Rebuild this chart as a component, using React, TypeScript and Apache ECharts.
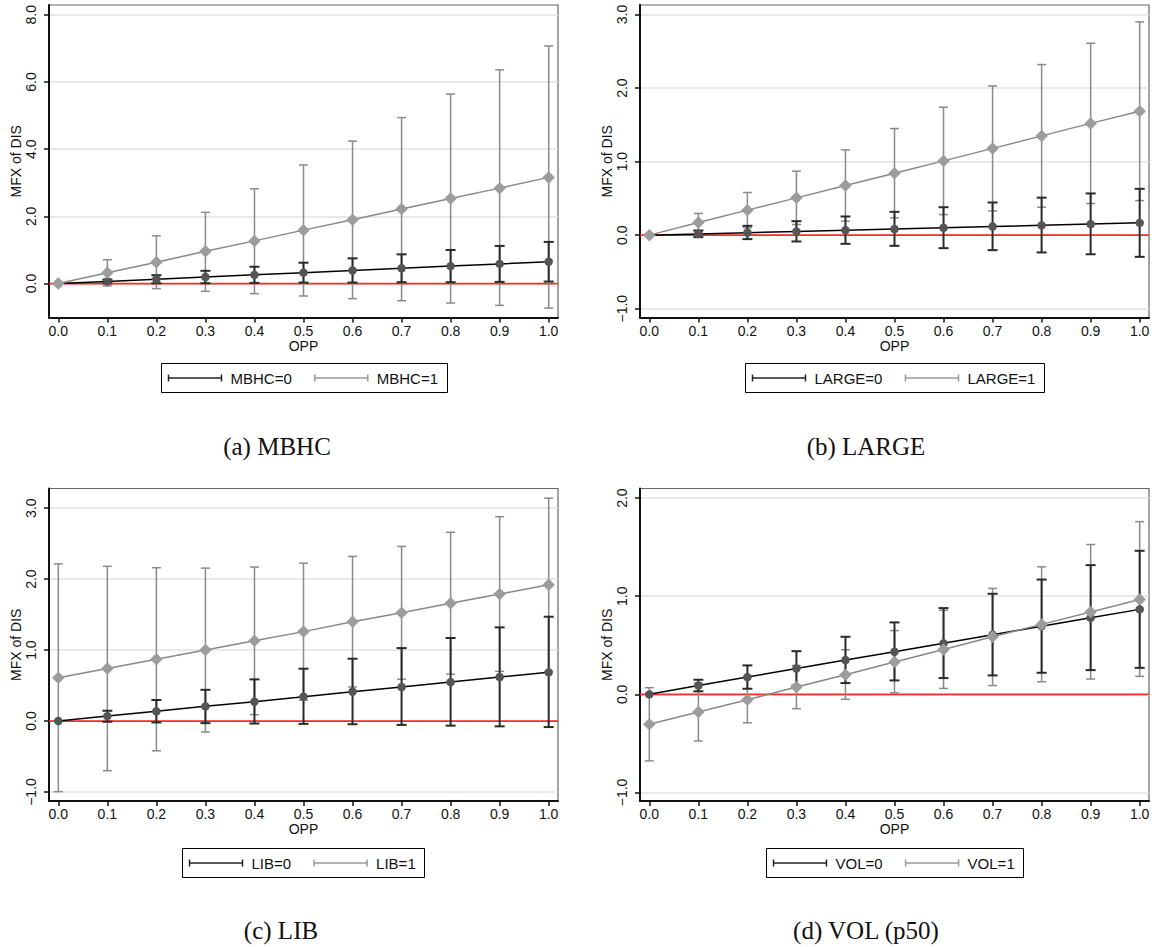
import React, { useEffect, useRef } from "react";
import * as echarts from "echarts";

// ---------- data ----------
const OPP = [0, 0.1, 0.2, 0.3, 0.4, 0.5, 0.6, 0.7, 0.8, 0.9, 1.0];

// (a) MBHC
const MBHC0_MFX = [0, 0.065, 0.13, 0.195, 0.26, 0.325, 0.39, 0.455, 0.52, 0.585, 0.65];
const MBHC0_LO = [0, 0.01, 0.01, 0.01, 0.02, 0.03, 0.03, 0.04, 0.04, 0.05, 0.06];
const MBHC0_HI = [0, 0.12, 0.25, 0.38, 0.5, 0.62, 0.75, 0.87, 1.0, 1.12, 1.24];
const MBHC1_MFX = [0, 0.32, 0.635, 0.96, 1.27, 1.59, 1.9, 2.22, 2.53, 2.84, 3.16];
const MBHC1_LO = [0, -0.07, -0.15, -0.23, -0.3, -0.37, -0.45, -0.51, -0.58, -0.65, -0.73];
const MBHC1_HI = [0, 0.71, 1.42, 2.12, 2.82, 3.53, 4.24, 4.94, 5.64, 6.36, 7.07];

// (b) LARGE
const LARGE0_MFX = [0, 0.017, 0.033, 0.05, 0.067, 0.083, 0.1, 0.117, 0.133, 0.15, 0.167];
const LARGE0_LO = [0, -0.027, -0.054, -0.086, -0.118, -0.145, -0.177, -0.204, -0.235, -0.26, -0.295];
const LARGE0_HI = [0, 0.064, 0.127, 0.19, 0.254, 0.317, 0.38, 0.444, 0.51, 0.567, 0.63];
const LARGE1_MFX = [0, 0.172, 0.34, 0.507, 0.675, 0.843, 1.01, 1.18, 1.35, 1.52, 1.686];
const LARGE1_LO = [0, 0.05, 0.1, 0.145, 0.19, 0.235, 0.28, 0.33, 0.38, 0.43, 0.47];
const LARGE1_HI = [0, 0.295, 0.58, 0.87, 1.16, 1.45, 1.74, 2.03, 2.32, 2.61, 2.9];

// (c) LIB
const LIB0_MFX = [0, 0.07, 0.137, 0.207, 0.272, 0.343, 0.413, 0.479, 0.549, 0.62, 0.686];
const LIB0_LO = [0, -0.01, -0.02, -0.03, -0.035, -0.04, -0.045, -0.055, -0.065, -0.075, -0.085];
const LIB0_HI = [0, 0.145, 0.296, 0.44, 0.587, 0.737, 0.878, 1.028, 1.17, 1.32, 1.47];
const LIB1_MFX = [0.61, 0.74, 0.87, 1.0, 1.13, 1.26, 1.4, 1.525, 1.66, 1.79, 1.92];
const LIB1_LO = [-0.995, -0.7, -0.42, -0.155, 0.09, 0.295, 0.48, 0.59, 0.66, 0.7, 0.7];
const LIB1_HI = [2.215, 2.18, 2.16, 2.155, 2.17, 2.225, 2.32, 2.46, 2.66, 2.88, 3.14];

// (d) VOL (p50)
const VOL0_MFX = [0, 0.09, 0.176, 0.264, 0.35, 0.434, 0.52, 0.607, 0.695, 0.78, 0.866];
const VOL0_LO = [0, 0.031, 0.057, 0.088, 0.115, 0.142, 0.166, 0.193, 0.22, 0.247, 0.27];
const VOL0_HI = [0, 0.149, 0.295, 0.44, 0.587, 0.733, 0.879, 1.025, 1.17, 1.317, 1.463];
const VOL1_MFX = [-0.305, -0.18, -0.055, 0.074, 0.2, 0.33, 0.458, 0.587, 0.713, 0.84, 0.967];
const VOL1_LO = [-0.678, -0.475, -0.29, -0.146, -0.05, 0.016, 0.06, 0.09, 0.128, 0.156, 0.183];
const VOL1_HI = [0.068, 0.115, 0.18, 0.294, 0.454, 0.65, 0.856, 1.08, 1.3, 1.527, 1.76];

// tick labels
const X_TICKS = [0, 0.1, 0.2, 0.3, 0.4, 0.5, 0.6, 0.7, 0.8, 0.9, 1.0];
const A_YTICKS = [0, 2, 4, 6, 8];
const B_YTICKS = [-1, 0, 1, 2, 3];
const C_YTICKS = [-1, 0, 1, 2, 3];
const D_YTICKS = [-1, 0, 1, 2];

const X_TITLE = "OPP";
const Y_TITLE = "MFX of DIS";

// ---------- layout ----------
const X_MIN = -0.019;
const X_MAX = 1.019;
const SANS = '"Liberation Sans", Arial, sans-serif';
const SERIF = '"Liberation Serif", "Times New Roman", serif';
const LEG_FONT = 15;

const PANELS = [
  {
    grid: { left: 49, top: 5, width: 509, height: 312.5 },
    yMin: -1.01, yMax: 8.29, yTicks: A_YTICKS,
    m0: MBHC0_MFX, lo0: MBHC0_LO, hi0: MBHC0_HI,
    m1: MBHC1_MFX, lo1: MBHC1_LO, hi1: MBHC1_HI,
    names: ["MBHC=0", "MBHC=1"], caption: "(a) MBHC", capX: 277, capY: 446, legY: 363.5,
  },
  {
    grid: { left: 640, top: 5, width: 509, height: 312.5 },
    yMin: -1.12, yMax: 3.13, yTicks: B_YTICKS,
    m0: LARGE0_MFX, lo0: LARGE0_LO, hi0: LARGE0_HI,
    m1: LARGE1_MFX, lo1: LARGE1_LO, hi1: LARGE1_HI,
    names: ["LARGE=0", "LARGE=1"], caption: "(b) LARGE", capX: 866, capY: 446, legY: 363.5,
  },
  {
    grid: { left: 49, top: 488.5, width: 509, height: 312.5 },
    yMin: -1.127, yMax: 3.277, yTicks: C_YTICKS,
    m0: LIB0_MFX, lo0: LIB0_LO, hi0: LIB0_HI,
    m1: LIB1_MFX, lo1: LIB1_LO, hi1: LIB1_HI,
    names: ["LIB=0", "LIB=1"], caption: "(c) LIB", capX: 281, capY: 930, legY: 848.5,
  },
  {
    grid: { left: 640, top: 488.5, width: 509, height: 312.5 },
    yMin: -1.087, yMax: 2.098, yTicks: D_YTICKS,
    m0: VOL0_MFX, lo0: VOL0_LO, hi0: VOL0_HI,
    m1: VOL1_MFX, lo1: VOL1_LO, hi1: VOL1_HI,
    names: ["VOL=0", "VOL=1"], caption: "(d) VOL (p50)", capX: 866, capY: 930, legY: 848.5,
  },
];

const fmt = (v: number) => (v < 0 ? "\u2212" : "") + Math.abs(v).toFixed(1);

function errorBars(idx: number, lo: number[], hi: number[], color: string, lw: number, capW: number, z: number) {
  return {
    type: "custom",
    xAxisIndex: idx,
    yAxisIndex: idx,
    z,
    silent: true,
    encode: { x: 0, y: [1, 2] },
    data: OPP.map((x, i) => [x, lo[i], hi[i]]),
    renderItem: (params: any, api: any) => {
      const x = api.value(0);
      const l = api.value(1);
      const h = api.value(2);
      if (l === h) return null;
      const pl = api.coord([x, l]);
      const ph = api.coord([x, h]);
      const hw = capW / 2;
      const style = { stroke: color, lineWidth: lw };
      return {
        type: "group",
        children: [
          { type: "line", shape: { x1: pl[0], y1: pl[1], x2: ph[0], y2: ph[1] }, style },
          { type: "line", shape: { x1: pl[0] - hw, y1: pl[1], x2: pl[0] + hw, y2: pl[1] }, style },
          { type: "line", shape: { x1: ph[0] - hw, y1: ph[1], x2: ph[0] + hw, y2: ph[1] }, style },
        ],
      };
    },
  };
}

function measure(text: string): number {
  const c = document.createElement("canvas").getContext("2d");
  if (!c) return text.length * 8.5;
  c.font = LEG_FONT + 'px "Liberation Sans"';
  return c.measureText(text).width;
}

function legendGraphics(p: any) {
  const keyLen = 53, gapKT = 9, gapItems = 23, pad = 7, h = 29;
  const w0 = measure(p.names[0]);
  const w1 = measure(p.names[1]);
  const total = pad + keyLen + gapKT + w0 + gapItems + keyLen + gapKT + w1 + pad + 2;
  const cx = p.grid.left + p.grid.width / 2;
  const x0 = Math.round(cx - total / 2) + 0.5;
  const y0 = p.legY;
  const my = p.legY + h / 2;
  const els: any[] = [];
  els.push({
    type: "rect",
    shape: { x: x0, y: y0, width: Math.round(total), height: h },
    style: { fill: "#fff", stroke: "#000", lineWidth: 1 },
  });
  const key = (kx: number, color: string) => {
    const st = { stroke: color, lineWidth: 1.5 };
    els.push({ type: "line", shape: { x1: kx, y1: my, x2: kx + keyLen, y2: my }, style: st });
    els.push({ type: "line", shape: { x1: kx, y1: my - 3.5, x2: kx, y2: my + 3.5 }, style: st });
    els.push({ type: "line", shape: { x1: kx + keyLen, y1: my - 3.5, x2: kx + keyLen, y2: my + 3.5 }, style: st });
  };
  const text = (tx: number, t: string) => {
    els.push({
      type: "text",
      style: { text: t, x: tx, y: my, fill: "#111", fontFamily: SANS, fontSize: LEG_FONT, align: "left", verticalAlign: "middle" },
    });
  };
  let x = x0 + pad;
  key(x, "#222");
  x += keyLen + gapKT;
  text(x, p.names[0]);
  x += w0 + gapItems;
  key(x, "#999");
  x += keyLen + gapKT;
  text(x, p.names[1]);
  return els;
}

function buildOption() {
  const grid: any[] = [];
  const xAxis: any[] = [];
  const yAxis: any[] = [];
  const series: any[] = [];
  const graphic: any[] = [];

  PANELS.forEach((p, i) => {
    grid.push({
      ...p.grid,
      show: true,
      borderColor: "#666",
      borderWidth: 1.2,
      backgroundColor: "#fff",
      containLabel: false,
      outerBoundsMode: "none",
    });
    xAxis.push({
      type: "value",
      gridIndex: i,
      min: X_MIN,
      max: X_MAX,
      name: X_TITLE,
      nameLocation: "middle",
      nameGap: 21,
      nameTextStyle: { fontFamily: SANS, fontSize: 14, color: "#111" },
      axisLine: { show: true, onZero: false, lineStyle: { color: "#111", width: 2 } },
      axisTick: { show: true, inside: false, length: 5, customValues: X_TICKS, lineStyle: { color: "#111", width: 1.5 } },
      axisLabel: {
        show: true,
        customValues: X_TICKS,
        margin: 6,
        fontFamily: SANS,
        fontSize: 14,
        color: "#111",
        formatter: (v: number) => fmt(v),
      },
      splitLine: { show: false },
    });
    yAxis.push({
      type: "value",
      gridIndex: i,
      min: p.yMin,
      max: p.yMax,
      name: Y_TITLE,
      nameLocation: "middle",
      nameGap: 26,
      nameTextStyle: { fontFamily: SANS, fontSize: 14, color: "#111" },
      axisLine: { show: true, onZero: false, lineStyle: { color: "#111", width: 2 } },
      axisTick: { show: true, inside: false, length: 5, customValues: p.yTicks, lineStyle: { color: "#111", width: 1.5 } },
      axisLabel: {
        show: true,
        customValues: p.yTicks,
        rotate: 90,
        margin: 11,
        fontFamily: SANS,
        fontSize: 14,
        color: "#111",
        formatter: (v: number) => fmt(v),
      },
      splitLine: { show: true, lineStyle: { color: "#e2e2e2", width: 1.5 } },
    });

    // zero reference line
    series.push({
      type: "line",
      xAxisIndex: i,
      yAxisIndex: i,
      z: 1,
      silent: true,
      symbol: "none",
      data: [[X_MIN, 0], [X_MAX, 0]],
      lineStyle: { color: "#ff2a2a", width: 1.8 },
    });
    // confidence intervals
    series.push(errorBars(i, p.lo1, p.hi1, "#8a8a8a", 1.5, 9, 2));
    series.push(errorBars(i, p.lo0, p.hi0, "#2a2a2a", 2, 10, 3));
    // point estimates
    series.push({
      type: "line",
      name: p.names[0],
      xAxisIndex: i,
      yAxisIndex: i,
      z: 4,
      silent: true,
      data: OPP.map((x, k) => [x, p.m0[k]]),
      symbol: "circle",
      symbolSize: 8.5,
      showAllSymbol: true,
      itemStyle: { color: "#555", borderWidth: 0 },
      lineStyle: { color: "#000", width: 1.5 },
    });
    series.push({
      type: "line",
      name: p.names[1],
      xAxisIndex: i,
      yAxisIndex: i,
      z: 5,
      silent: true,
      data: OPP.map((x, k) => [x, p.m1[k]]),
      symbol: "diamond",
      symbolSize: 12.5,
      showAllSymbol: true,
      itemStyle: { color: "#9c9c9c", borderWidth: 0 },
      lineStyle: { color: "#888", width: 1.5 },
    });

    graphic.push(...legendGraphics(p));
    graphic.push({
      type: "text",
      style: {
        text: p.caption,
        x: p.capX,
        y: p.capY,
        fill: "#111",
        fontFamily: SERIF,
        fontSize: 25,
        align: "center",
        verticalAlign: "middle",
      },
    });
  });

  return {
    animation: false,
    backgroundColor: "#fff",
    grid,
    xAxis,
    yAxis,
    series,
    graphic,
  };
}

export default function App() {
  const ref = useRef<HTMLDivElement>(null);
  useEffect(() => {
    if (!ref.current) return;
    const chart = echarts.init(ref.current, undefined, { renderer: "svg" });
    chart.setOption(buildOption() as any);
    return () => chart.dispose();
  }, []);
  return (
    <div
      ref={ref}
      style={{ position: "absolute", left: 0, top: 0, width: 1159, height: 947, background: "#fff" }}
    />
  );
}
